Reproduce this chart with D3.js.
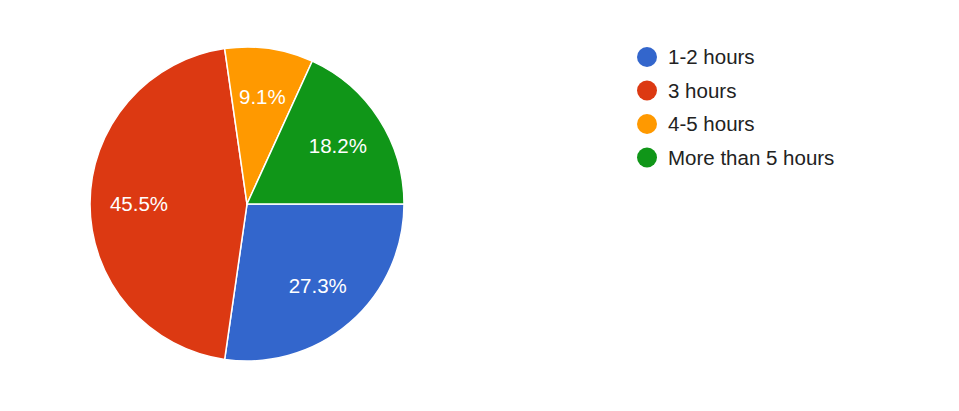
<!DOCTYPE html>
<html><head><meta charset="utf-8">
<script src="https://cdn.jsdelivr.net/npm/d3@7"></script>
<style>body{margin:0;background:#fff}svg{display:block}</style>
</head><body>
<script>
const categories = ["1-2 hours","3 hours","4-5 hours","More than 5 hours"];
const values = [3,5,1,2];
const colors = ["#3366cc","#dc3912","#ff9900","#109618"];

const W=959,H=411,cx=247,cy=204,R=157;
const svg=d3.select("body").append("svg").attr("width",W).attr("height",H);
const data=categories.map((c,i)=>({c,v:values[i],col:colors[i]}));
const total=d3.sum(values);
const pie=d3.pie().value(d=>d.v).sort(null).startAngle(Math.PI/2).endAngle(Math.PI/2+2*Math.PI);
const arcs=pie(data);
const arc=d3.arc().innerRadius(0).outerRadius(R);
const labelArc=d3.arc().innerRadius(108).outerRadius(108);
const g=svg.append("g").attr("transform",`translate(${cx},${cy})`);
g.selectAll("path").data(arcs).join("path").attr("d",arc).attr("fill",d=>d.data.col).attr("stroke","#fff").attr("stroke-width",1.5);
g.selectAll("text").data(arcs).join("text")
 .attr("transform",d=>`translate(${labelArc.centroid(d)})`)
 .attr("text-anchor","middle").attr("dy","0.35em")
 .attr("fill","#fff").attr("font-family","Liberation Sans, Arial, sans-serif").attr("font-size",20.5)
 .text(d=>(d.data.v/total*100).toFixed(1)+"%");
const lg=svg.append("g").selectAll("g").data(data).join("g").attr("transform",(d,i)=>`translate(647,${57+i*33.5})`);
lg.append("circle").attr("r",10).attr("fill",d=>d.col);
lg.append("text").attr("x",21).attr("dy","0.35em").attr("fill","#222").attr("font-family","Liberation Sans, Arial, sans-serif").attr("font-size",20.5).text(d=>d.c);
</script>
</body></html>
